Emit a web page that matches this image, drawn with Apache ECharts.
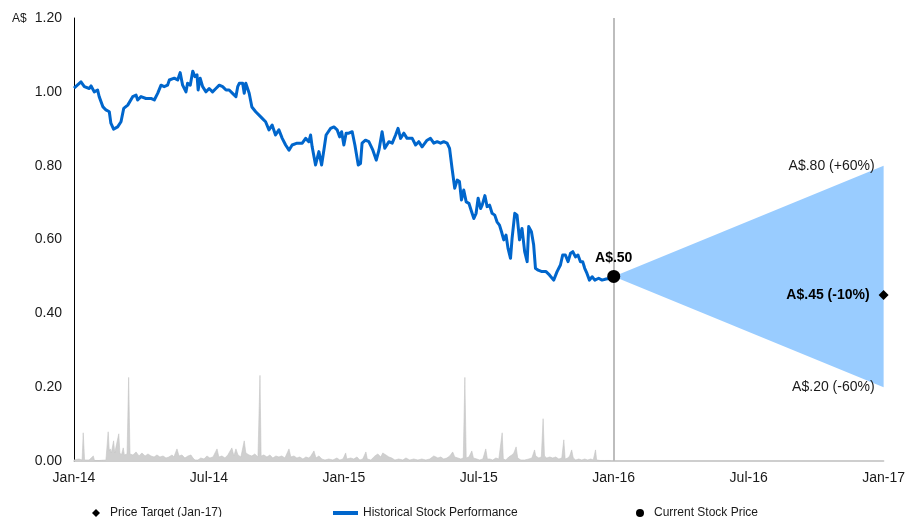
<!DOCTYPE html>
<html>
<head>
<meta charset="utf-8">
<script src="https://cdn.jsdelivr.net/npm/echarts@6/dist/echarts.min.js"></script>
<style>
  html, body { margin: 0; padding: 0; background: #fff; }
  #chart { width: 908px; height: 517px; }
</style>
</head>
<body>
<div id="chart"></div>
<script>
// x axis is measured in months since Jan-2014
const xTickLabels = ['Jan-14', 'Jul-14', 'Jan-15', 'Jul-15', 'Jan-16', 'Jul-16', 'Jan-17'];

// Historical share price (A$)
const histT = [
  0.00, 0.31, 0.46, 0.68, 0.76, 0.90, 1.05, 1.12, 1.28, 1.42, 1.57, 1.64, 1.76, 1.94, 2.09, 2.21, 2.39, 2.61, 2.76, 2.83,
  2.98, 3.20, 3.42, 3.57, 3.72, 3.87, 4.01, 4.16, 4.24, 4.46, 4.61, 4.72, 4.83, 4.98, 5.05, 5.17, 5.28, 5.38, 5.47, 5.52,
  5.61, 5.72, 5.87, 6.01, 6.16, 6.31, 6.46, 6.61, 6.76, 6.90, 7.05, 7.20, 7.28, 7.35, 7.50, 7.57, 7.64, 7.79, 7.91, 8.08,
  8.37, 8.52, 8.67, 8.81, 8.96, 9.11, 9.26, 9.41, 9.56, 9.70, 9.92, 10.15, 10.30, 10.44, 10.52, 10.59, 10.74, 10.89, 11.01, 11.11,
  11.21, 11.41, 11.56, 11.70, 11.81, 11.90, 12.00, 12.10, 12.22, 12.37, 12.49, 12.64, 12.74, 12.81, 12.96, 13.11, 13.29, 13.44, 13.56, 13.70,
  13.82, 14.00, 14.15, 14.30, 14.41, 14.52, 14.67, 14.81, 15.04, 15.19, 15.33, 15.48, 15.70, 15.85, 16.00, 16.15, 16.30, 16.44, 16.59, 16.70,
  16.81, 16.93, 17.04, 17.14, 17.23, 17.33, 17.44, 17.56, 17.68, 17.78, 17.88, 17.97, 18.08, 18.15, 18.27, 18.37, 18.48, 18.59, 18.71, 18.81,
  18.92, 19.01, 19.11, 19.21, 19.30, 19.41, 19.48, 19.60, 19.70, 19.81, 19.92, 20.04, 20.15, 20.22, 20.34, 20.44, 20.52, 20.64, 20.81, 20.99,
  21.14, 21.33, 21.48, 21.63, 21.73, 21.85, 21.97, 22.08, 22.18, 22.30, 22.41, 22.52, 22.62, 22.71, 22.81, 22.92, 23.04, 23.16, 23.33, 23.48,
  23.66, 23.90
];
const histPrice = [
  1.010, 1.027, 1.014, 1.009, 1.016, 1.000, 1.005, 0.987, 0.960, 0.951, 0.946, 0.915, 0.899, 0.905, 0.919, 0.955, 0.964, 0.987, 0.991, 0.978,
  0.987, 0.982, 0.982, 0.978, 0.996, 1.018, 1.014, 1.018, 1.032, 1.037, 1.032, 1.052, 1.018, 1.000, 1.023, 1.018, 1.056, 1.041, 1.046, 1.005,
  1.037, 1.014, 1.000, 1.009, 1.000, 1.009, 1.018, 1.014, 1.005, 1.005, 0.996, 0.987, 1.014, 1.023, 1.023, 0.996, 1.023, 0.996, 0.959, 0.946,
  0.928, 0.919, 0.897, 0.910, 0.883, 0.897, 0.874, 0.856, 0.842, 0.856, 0.861, 0.861, 0.874, 0.865, 0.883, 0.851, 0.802, 0.838, 0.802, 0.842,
  0.883, 0.901, 0.905, 0.897, 0.878, 0.892, 0.856, 0.888, 0.888, 0.892, 0.856, 0.802, 0.806, 0.861, 0.869, 0.865, 0.842, 0.815, 0.842, 0.892,
  0.847, 0.865, 0.861, 0.883, 0.901, 0.874, 0.888, 0.874, 0.874, 0.856, 0.865, 0.851, 0.869, 0.874, 0.861, 0.865, 0.861, 0.865, 0.861, 0.847,
  0.793, 0.739, 0.761, 0.757, 0.707, 0.734, 0.702, 0.698, 0.675, 0.657, 0.671, 0.712, 0.684, 0.693, 0.719, 0.689, 0.693, 0.671, 0.666, 0.648,
  0.639, 0.621, 0.599, 0.612, 0.576, 0.549, 0.603, 0.671, 0.666, 0.599, 0.630, 0.567, 0.540, 0.635, 0.621, 0.585, 0.522, 0.517, 0.513, 0.513,
  0.504, 0.490, 0.513, 0.531, 0.558, 0.558, 0.540, 0.563, 0.567, 0.553, 0.558, 0.540, 0.540, 0.522, 0.508, 0.490, 0.499, 0.490, 0.495, 0.490,
  0.493, 0.495
];

// Traded volume (millions of shares)
const volT = [
  0.00, 0.22, 0.36, 0.41, 0.47, 0.67, 0.86, 0.91, 1.11, 1.42, 1.49, 1.52, 1.57, 1.61, 1.66, 1.76, 1.81, 1.89, 1.99, 2.04,
  2.11, 2.19, 2.24, 2.36, 2.43, 2.49, 2.62, 2.76, 2.89, 3.02, 3.16, 3.29, 3.42, 3.56, 3.69, 3.82, 3.96, 4.09, 4.22, 4.36,
  4.44, 4.58, 4.67, 4.80, 4.93, 5.07, 5.20, 5.29, 5.38, 5.51, 5.64, 5.78, 5.91, 6.04, 6.18, 6.36, 6.44, 6.58, 6.71, 6.84,
  7.02, 7.11, 7.20, 7.29, 7.42, 7.57, 7.64, 7.78, 7.91, 8.04, 8.18, 8.27, 8.32, 8.44, 8.58, 8.71, 8.84, 8.98, 9.11, 9.24,
  9.38, 9.56, 9.64, 9.78, 9.91, 10.04, 10.18, 10.31, 10.44, 10.53, 10.67, 10.76, 10.89, 11.02, 11.16, 11.33, 11.51, 11.69, 11.82, 11.96,
  12.08, 12.13, 12.31, 12.44, 12.58, 12.71, 12.84, 12.98, 13.04, 13.20, 13.38, 13.51, 13.64, 13.73, 13.87, 14.00, 14.13, 14.27, 14.44, 14.62,
  14.76, 14.93, 15.11, 15.29, 15.47, 15.64, 15.82, 16.00, 16.18, 16.31, 16.44, 16.58, 16.71, 16.84, 16.93, 17.07, 17.20, 17.31, 17.38, 17.44,
  17.56, 17.69, 17.76, 17.91, 18.04, 18.18, 18.31, 18.38, 18.49, 18.62, 18.76, 18.89, 19.04, 19.09, 19.20, 19.33, 19.47, 19.56, 19.66, 19.73,
  19.87, 20.04, 20.22, 20.36, 20.48, 20.53, 20.67, 20.78, 20.86, 20.92, 21.02, 21.16, 21.29, 21.42, 21.56, 21.69, 21.78, 21.84, 21.96, 22.04,
  22.13, 22.20, 22.31, 22.44, 22.58, 22.71, 22.84, 22.98, 23.09, 23.19, 23.24, 23.42, 23.60, 23.87
];
const volume = [
  0.1, 0.2, 0.1, 2.8, 0.1, 0.1, 0.5, 0.05, 0.05, 0.1, 0.2, 2.9, 1.0, 1.2, 0.8, 2.0, 0.8, 0.7, 2.7, 0.8,
  0.6, 1.3, 0.6, 0.7, 8.3, 0.7, 0.6, 0.9, 0.5, 0.8, 0.5, 0.7, 0.5, 0.4, 0.6, 0.4, 0.5, 0.3, 0.4, 0.6,
  0.4, 1.2, 0.5, 0.6, 0.3, 0.5, 0.6, 0.3, 0.1, 0.1, 0.3, 0.2, 0.5, 0.3, 0.4, 1.2, 0.4, 0.5, 0.3, 0.6,
  1.3, 0.5, 1.2, 0.6, 0.4, 2.0, 0.8, 0.6, 0.5, 0.7, 0.4, 8.5, 0.5, 0.6, 0.4, 0.6, 0.3, 0.5, 0.4, 0.5,
  0.3, 1.2, 0.4, 0.5, 0.3, 0.4, 0.2, 0.4, 0.3, 0.5, 1.0, 0.3, 0.5, 0.2, 0.1, 0.2, 0.1, 0.3, 0.1, 0.2,
  0.8, 0.2, 0.3, 0.2, 0.4, 0.1, 0.2, 0.9, 0.2, 0.1, 0.5, 0.7, 0.4, 0.8, 0.6, 0.4, 0.3, 0.1, 0.2, 0.1,
  0.3, 0.1, 0.2, 0.1, 0.2, 0.1, 0.2, 0.5, 0.3, 0.4, 0.2, 0.3, 0.5, 0.9, 0.4, 0.3, 0.2, 0.3, 8.3, 0.3,
  0.4, 1.0, 0.3, 0.2, 0.1, 0.2, 1.2, 0.2, 0.2, 0.1, 0.3, 0.2, 2.8, 0.2, 0.1, 0.4, 0.6, 0.8, 1.4, 0.3,
  0.1, 0.1, 0.2, 0.3, 1.1, 0.5, 0.3, 0.4, 4.2, 0.5, 0.3, 0.4, 0.3, 0.4, 0.2, 0.3, 2.1, 0.2, 0.3, 0.5,
  1.1, 0.3, 0.1, 0.2, 0.1, 0.2, 0.1, 0.2, 0.1, 1.1, 0.1, 0.05, 0.05, 0.05
];

// Current price and the Jan-17 outlook
const currentT = 24;
const currentPrice = 0.50;
const targetT = 36;
const targetPrice = 0.45;
const coneT = [24, 36];
const coneHigh = [0.50, 0.80];
const coneLow = [0.50, 0.20];

const FONT = '"Liberation Sans", Arial, sans-serif';
const TEXT = '#1a1a1a';

const fmtPrice = v => 'A$' + v.toFixed(2).replace(/^0/, '');
const fmtChange = v => {
  const p = Math.round((v / currentPrice - 1) * 100);
  return (p > 0 ? '+' : '') + p + '%';
};

const histData = histT.map((t, i) => [t, histPrice[i]]);
const volData = volT.map((t, i) => [t, volume[i]]);

const chart = echarts.init(document.getElementById('chart'), null, { renderer: 'canvas' });

chart.setOption({
  animation: false,
  backgroundColor: '#fff',
  textStyle: { fontFamily: FONT, color: TEXT },
  grid: { left: 74, right: 23, top: 18, bottom: 56, containLabel: false },
  graphic: [{
    type: 'text', left: 12, top: 13,
    style: { text: 'A$', fontSize: 12, fontFamily: FONT, fill: TEXT }
  }],
  legend: [
    {
      data: ['Price Target (Jan-17)'], left: 92, top: 507, padding: 0,
      icon: 'diamond', itemWidth: 8, itemHeight: 8,
      textStyle: { fontSize: 12, color: TEXT, fontFamily: FONT, padding: [0, 0, 0, 5] }
    },
    {
      data: ['Historical Stock Performance'], left: 333, top: 507, padding: 0,
      icon: 'rect', itemWidth: 25, itemHeight: 4,
      textStyle: { fontSize: 12, color: TEXT, fontFamily: FONT }
    },
    {
      data: ['Current Stock Price'], left: 636, top: 507, padding: 0,
      icon: 'circle', itemWidth: 8, itemHeight: 8,
      textStyle: { fontSize: 12, color: TEXT, fontFamily: FONT, padding: [0, 0, 0, 5] }
    }
  ],
  xAxis: {
    type: 'value', min: 0, max: 36, interval: 6,
    axisLine: { show: true, lineStyle: { color: '#BFBFBF', width: 1.5 } },
    axisTick: { show: false },
    splitLine: { show: false },
    axisLabel: {
      showMinLabel: true, showMaxLabel: true,
      formatter: v => xTickLabels[Math.round(v / 6)],
      fontSize: 14, color: TEXT, fontFamily: FONT, margin: 10
    }
  },
  yAxis: [
    {
      type: 'value', min: 0, max: 1.2, interval: 0.2,
      axisLine: { show: true, lineStyle: { color: '#000', width: 1 } },
      axisTick: { show: false },
      splitLine: { show: false },
      axisLabel: {
        formatter: v => v.toFixed(2),
        fontSize: 14, color: TEXT, fontFamily: FONT, margin: 12
      }
    },
    { type: 'value', min: 0, max: 44, show: false }
  ],
  series: [
    {
      name: 'Volume', type: 'line', yAxisIndex: 1, z: 1,
      data: volData, showSymbol: false, silent: true,
      lineStyle: { color: '#C4C4C4', width: 0.6 },
      areaStyle: { color: '#CFCFCF', opacity: 1 },
      markLine: {
        silent: true, symbol: 'none', label: { show: false },
        lineStyle: { color: '#BDBDBD', width: 2, type: 'solid' },
        data: [{ xAxis: currentT }]
      }
    },
    {
      name: 'Outlook', type: 'custom', z: 2, silent: true,
      data: [[coneT[0], coneHigh[0], coneLow[0], coneT[1], coneHigh[1], coneLow[1]]],
      encode: { x: [0, 3], y: [1, 2, 4, 5] },
      renderItem: (params, api) => ({
        type: 'polygon',
        shape: {
          points: [
            api.coord([api.value(0), api.value(1)]),
            api.coord([api.value(3), api.value(4)]),
            api.coord([api.value(3), api.value(5)]),
            api.coord([api.value(0), api.value(2)])
          ]
        },
        style: { fill: '#99CCFF' }
      })
    },
    {
      name: 'Historical Stock Performance', type: 'line', z: 3,
      data: histData, showSymbol: false,
      itemStyle: { color: '#0066CC' },
      lineStyle: { color: '#0066CC', width: 3, join: 'round' }
    },
    {
      name: 'Outlook range', type: 'scatter', z: 4, silent: true,
      data: [[coneT[1], coneHigh[1]], [coneT[1], coneLow[1]]],
      symbolSize: 0,
      itemStyle: { color: '#000', opacity: 1 },
      label: {
        show: true, position: 'left', distance: 9,
        formatter: p => fmtPrice(p.value[1]) + ' (' + fmtChange(p.value[1]) + ')',
        fontSize: 14, color: TEXT, fontFamily: FONT
      }
    },
    {
      name: 'Price Target (Jan-17)', type: 'scatter', z: 5,
      data: [[targetT, targetPrice]],
      symbol: 'diamond', symbolSize: 10,
      itemStyle: { color: '#000', opacity: 1 },
      label: {
        show: true, position: 'left', distance: 9,
        formatter: p => fmtPrice(p.value[1]) + ' (' + fmtChange(p.value[1]) + ')',
        fontSize: 14, fontWeight: 'bold', color: '#000', fontFamily: FONT
      }
    },
    {
      name: 'Current Stock Price', type: 'scatter', z: 6,
      data: [[currentT, currentPrice]],
      symbol: 'circle', symbolSize: 13,
      itemStyle: { color: '#000', opacity: 1 },
      label: {
        show: true, position: 'top', distance: 5,
        formatter: p => fmtPrice(p.value[1]),
        fontSize: 14, fontWeight: 'bold', color: '#000', fontFamily: FONT
      }
    }
  ]
});
</script>
</body>
</html>
